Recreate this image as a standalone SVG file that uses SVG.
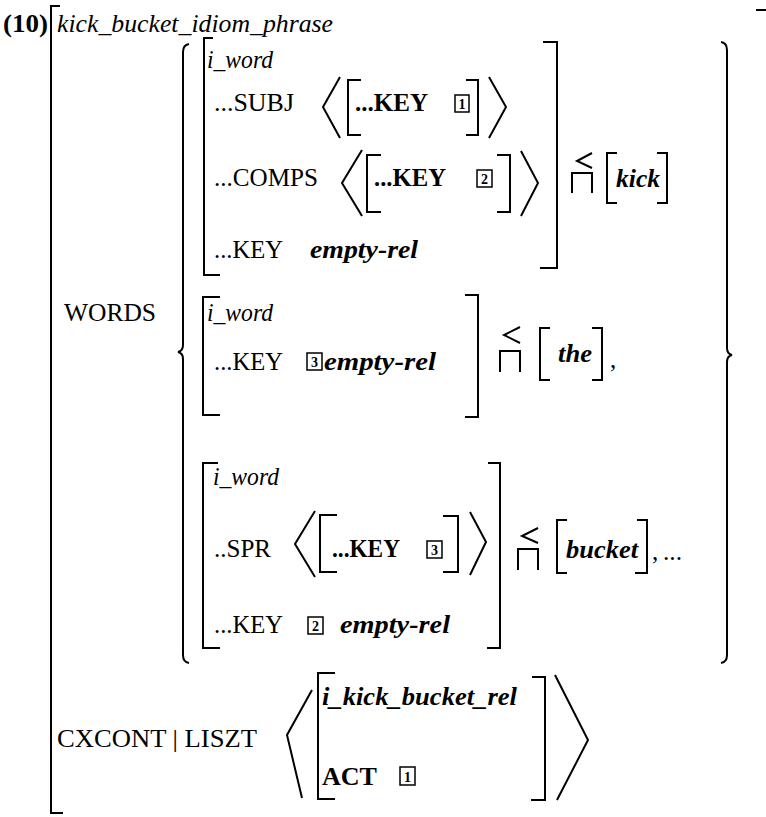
<svg xmlns="http://www.w3.org/2000/svg" width="766" height="817" viewBox="0 0 766 817">
<style>
text{font-family:"Liberation Serif","Times New Roman",serif;font-size:25px;fill:#000}
.b{font-weight:bold}
.i{font-style:italic}
.n{font-size:14px;font-weight:bold;text-anchor:middle}
.ln{fill:none;stroke:#000;stroke-width:2;stroke-linejoin:miter}
.bx{fill:none;stroke:#000;stroke-width:1.5}
</style>
<rect width="766" height="817" fill="#fff"/>
<g id="outer">
<text x="3" y="32" class="b" textLength="45" lengthAdjust="spacingAndGlyphs">(10)</text>
<path class="ln" d="M60,6 H51 V813 H63"/>
<path class="ln" d="M756,10 H766"/>
<text x="57" y="32" class="i" textLength="276" lengthAdjust="spacingAndGlyphs">kick_bucket_idiom_phrase</text>
</g>
<g id="words">
<text x="64" y="321" textLength="92" lengthAdjust="spacingAndGlyphs">WORDS</text>
<path class="ln" d="M189,44 Q183,45 183,52 L183,345 Q183,351 178,352 Q183,353 183,359 L183,655 Q183,662 189,663"/>
<path class="ln" d="M721,42 Q727,43 727,50 L727,348 Q727,354 732,355 Q727,356 727,362 L727,655 Q727,662 721,663"/>
</g>
<g id="word-kick">
<path class="ln" d="M213,38 H204 V275 H220"/>
<path class="ln" d="M543,42 H557 V268 H540"/>
<text x="207" y="68" class="i" font-size="24" textLength="66" lengthAdjust="spacingAndGlyphs">i_word</text>
<text x="214" y="111" textLength="80" lengthAdjust="spacingAndGlyphs">...SUBJ</text>
<path class="ln" d="M340,77 L323,107 L340,138"/>
<path class="ln" d="M361,80 H348 V135 H361"/>
<text x="355" y="111" class="b" textLength="73" lengthAdjust="spacingAndGlyphs">...KEY</text>
<rect class="bx" x="455" y="95" width="14" height="17"/>
<text x="462" y="109" class="n">1</text>
<path class="ln" d="M466,80 H478 V135 H466"/>
<path class="ln" d="M489,77 L506,107 L489,138"/>
<text x="214" y="186" textLength="104" lengthAdjust="spacingAndGlyphs">...COMPS</text>
<path class="ln" d="M362,150 L342,183 L362,216"/>
<path class="ln" d="M381,155 H367 V212 H381"/>
<text x="374" y="186" class="b" textLength="72" lengthAdjust="spacingAndGlyphs">...KEY</text>
<rect class="bx" x="477" y="170" width="15" height="17"/>
<text x="484.5" y="184" class="n">2</text>
<path class="ln" d="M497,155 H510 V212 H497"/>
<path class="ln" d="M521,151 L538,183 L521,216"/>
<text x="214" y="258" textLength="69" lengthAdjust="spacingAndGlyphs">...KEY</text>
<text x="310" y="258" class="b i" textLength="108" lengthAdjust="spacingAndGlyphs">empty-rel</text>
<path class="ln" d="M592,153 L577,161 L592,168 M572,193 V173 H592 V193"/>
<path class="ln" d="M617,153 H607 V203 H617"/>
<text x="616" y="187" class="b i" textLength="44" lengthAdjust="spacingAndGlyphs">kick</text>
<path class="ln" d="M657,153 H667 V203 H657"/>
</g>
<g id="word-the">
<path class="ln" d="M220,297 H203 V415 H220"/>
<path class="ln" d="M465,295 H478 V417 H465"/>
<text x="207" y="321" class="i" font-size="24" textLength="66" lengthAdjust="spacingAndGlyphs">i_word</text>
<text x="214" y="370" textLength="69" lengthAdjust="spacingAndGlyphs">...KEY</text>
<rect class="bx" x="307" y="353" width="15" height="17"/>
<text x="314.5" y="367" class="n">3</text>
<text x="324" y="370" class="b i" textLength="112" lengthAdjust="spacingAndGlyphs">empty-rel</text>
<path class="ln" d="M520,327 L504,335 L520,343 M500,372 V351 H520 V372"/>
<path class="ln" d="M550,328 H540 V380 H550"/>
<text x="558" y="362" class="b i" textLength="34" lengthAdjust="spacingAndGlyphs">the</text>
<path class="ln" d="M592,328 H602 V380 H592"/>
<text x="610" y="368">,</text>
</g>
<g id="word-bucket">
<path class="ln" d="M218,463 H203 V648 H220"/>
<path class="ln" d="M488,463 H500 V648 H487"/>
<text x="213" y="485" class="i" font-size="24" textLength="66" lengthAdjust="spacingAndGlyphs">i_word</text>
<text x="214" y="557" textLength="57" lengthAdjust="spacingAndGlyphs">..SPR</text>
<path class="ln" d="M315,511 L295,544 L315,577"/>
<path class="ln" d="M337,515 H320 V572 H337"/>
<text x="332" y="557" class="b" textLength="68" lengthAdjust="spacingAndGlyphs">...KEY</text>
<rect class="bx" x="427" y="541" width="15" height="17"/>
<text x="434.5" y="555" class="n">3</text>
<path class="ln" d="M443,516 H458 V572 H443"/>
<path class="ln" d="M470,512 L486,542 L470,575"/>
<text x="214" y="633" textLength="69" lengthAdjust="spacingAndGlyphs">...KEY</text>
<rect class="bx" x="308" y="617" width="15" height="17"/>
<text x="315.5" y="631" class="n">2</text>
<text x="340" y="633" class="b i" textLength="110" lengthAdjust="spacingAndGlyphs">empty-rel</text>
<path class="ln" d="M538,528 L522,536 L538,543 M518,570 V549 H538 V570"/>
<path class="ln" d="M567,520 H557 V573 H567"/>
<text x="566" y="558" class="b i" textLength="72" lengthAdjust="spacingAndGlyphs">bucket</text>
<path class="ln" d="M637,520 H647 V573 H635"/>
<text x="652" y="560">,</text>
<text x="663" y="560" textLength="19" lengthAdjust="spacingAndGlyphs">...</text>
</g>
<g id="cxcont">
<text x="57" y="747" textLength="200" lengthAdjust="spacingAndGlyphs">CXCONT | LISZT</text>
<path class="ln" d="M312,690 L287,735 L302,798"/>
<path class="ln" d="M335,673 H318 V799 H335"/>
<text x="322" y="705" class="b i" textLength="195" lengthAdjust="spacingAndGlyphs">i_kick_bucket_rel</text>
<text x="322" y="785" class="b" textLength="55" lengthAdjust="spacingAndGlyphs">ACT</text>
<rect class="bx" x="400" y="767" width="15" height="18"/>
<text x="407.5" y="782" class="n">1</text>
<path class="ln" d="M532,677 H545 V800 H531"/>
<path class="ln" d="M555,675 L588,740 L557,800"/>
</g>
</svg>
